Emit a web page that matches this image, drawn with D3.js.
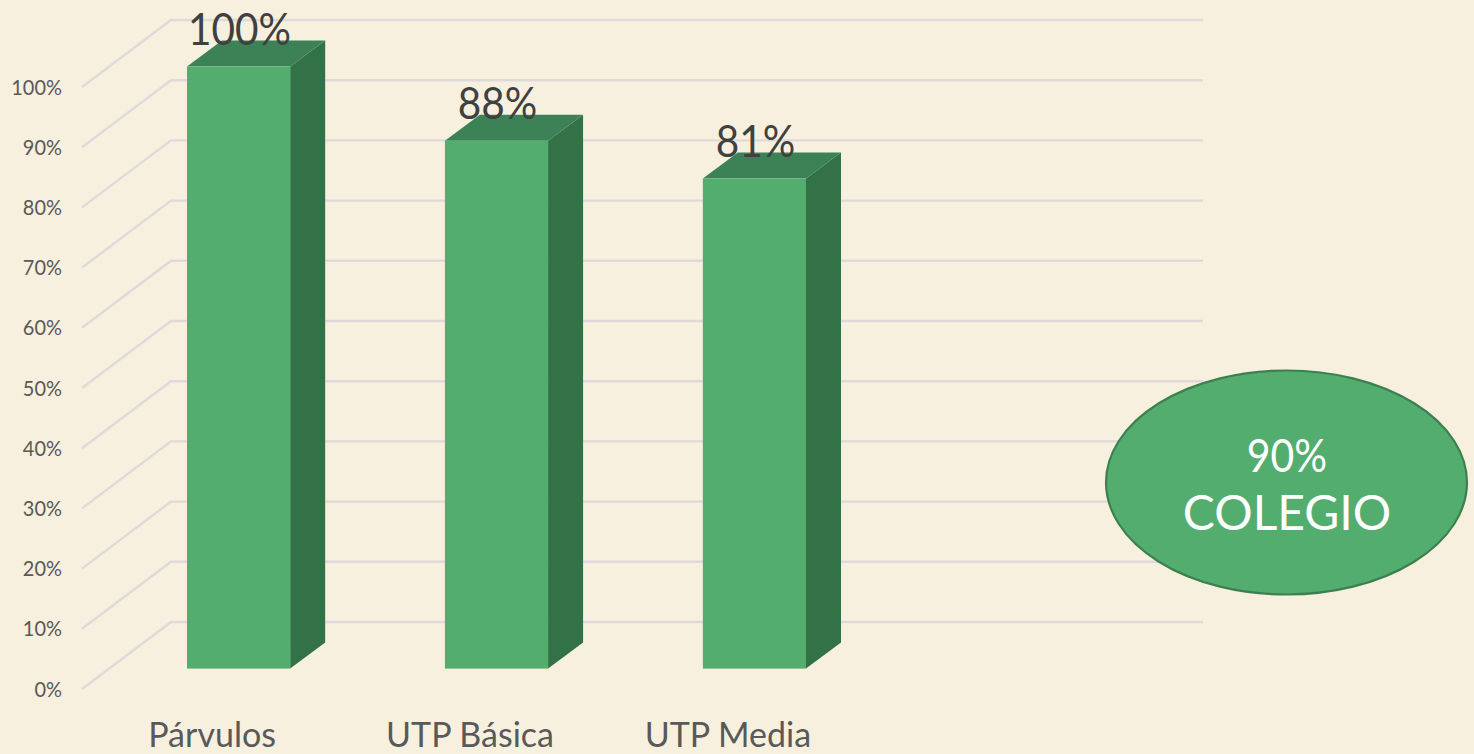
<!DOCTYPE html>
<html><head><meta charset="utf-8">
<script src="https://cdnjs.cloudflare.com/ajax/libs/d3/7.8.5/d3.min.js"></script>
<style>html,body{margin:0;padding:0;background:#F7F0DF;overflow:hidden}svg{display:block}text{font-family:Lato,"Open Sans",sans-serif}</style>
</head><body><svg id="c" width="1474" height="754"></svg>
<script>
const categories = ["Párvulos", "UTP Básica", "UTP Media"];
const values = [100, 87.7, 81.4];
const tickValues = [0, 10, 20, 30, 40, 50, 60, 70, 80, 90, 100];
const calloutLines = ["90%", "COLEGIO"];

const svg = d3.select("#c");
const y = d3.scaleLinear().domain([0, 100]).range([689, 87]);
const x = d3.scaleBand().domain(categories).range([187, 806]).paddingInner(0.6).paddingOuter(0);
const wallDx = 89, wallDy = -67, gridRight = 1203;
const barLift = 20.4, sideDx = 35, sideDy = -26;
const pct = d3.format(".0f");
function squeeze(sel, ratio) {
  sel.each(function () {
    this.setAttribute("textLength", this.getComputedTextLength() * ratio);
    this.setAttribute("lengthAdjust", "spacingAndGlyphs");
  });
}

// grid: floor/side wall diagonal + back wall line
svg.append("g").selectAll("path").data(tickValues).join("path")
  .attr("fill", "none").attr("stroke", "#DDDAD9").attr("stroke-width", 2.4)
  .attr("d", d => {
    const p = d3.path();
    p.moveTo(82, y(d));
    p.lineTo(82 + wallDx, y(d) + wallDy);
    p.lineTo(gridRight, y(d) + wallDy);
    return p.toString();
  });

// axis labels
svg.append("g").selectAll("text").data(tickValues).join("text")
  .attr("x", 62).attr("y", d => y(d) + 7.5)
  .attr("text-anchor", "end").attr("font-size", 21).attr("fill", "#595959")
  .text(d => d + "%")
  .call(squeeze, 0.95);

// bars
const bars = svg.append("g").selectAll("g").data(categories).join("g");
const bw = x.bandwidth();
const yb = d => y(d) - barLift;
function poly(pts){ return "M" + pts.map(p => p.join(",")).join("L") + "Z"; }
bars.append("path").attr("fill", "#337146").attr("d", (c, i) => {
  const l = x(c) + bw, t = yb(values[i]), b = yb(0);
  return poly([[l, t], [l + sideDx, t + sideDy], [l + sideDx, b + sideDy], [l, b]]);
});
bars.append("path").attr("fill", "#3D8256").attr("d", (c, i) => {
  const l = x(c), t = yb(values[i]);
  return poly([[l, t], [l + sideDx, t + sideDy], [l + bw + sideDx, t + sideDy], [l + bw, t]]);
});
bars.append("rect").attr("fill", "#53AD6F")
  .attr("x", c => x(c)).attr("width", bw)
  .attr("y", (c, i) => yb(values[i])).attr("height", (c, i) => yb(0) - yb(values[i]));

// value labels
svg.append("g").selectAll("text").data(categories).join("text")
  .attr("x", c => x(c) + bw / 2 + 1).attr("y", (c, i) => yb(values[i]) - 21.5)
  .attr("text-anchor", "middle").attr("font-size", 45).attr("fill", "#404040")
  .text((c, i) => pct(values[i]) + "%")
  .call(squeeze, 0.9);

// category labels
svg.append("g").selectAll("text").data(categories).join("text")
  .attr("x", c => x(c) + bw / 2 - 26.5).attr("y", 747)
  .attr("text-anchor", "middle").attr("font-size", 34).attr("fill", "#595959")
  .text(c => c);

// callout
svg.append("ellipse").attr("cx", 1286.5).attr("cy", 482.5).attr("rx", 180.5).attr("ry", 112)
  .attr("fill", "#53AD6F").attr("stroke", "#3C8050").attr("stroke-width", 2.2);
svg.append("g").selectAll("text").data(calloutLines).join("text")
  .attr("x", 1287).attr("y", (d, i) => 472 + i * 58)
  .attr("text-anchor", "middle").attr("font-size", (d, i) => i ? 48 : 46).attr("fill", "#fff")
  .text(d => d)
  .filter((d, i) => i === 0).call(squeeze, 0.89);
</script></body></html>
